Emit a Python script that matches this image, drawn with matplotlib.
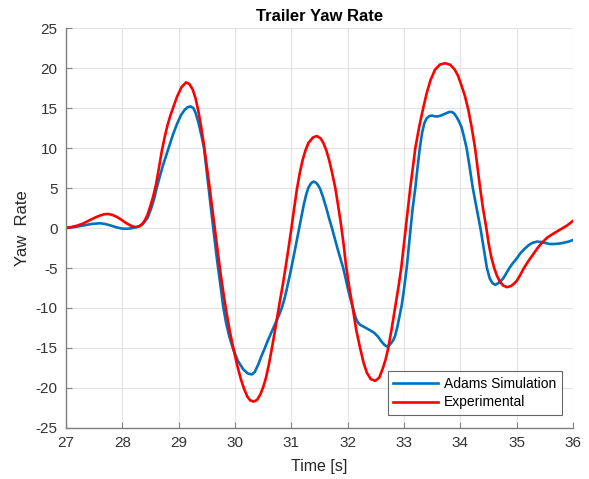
import matplotlib
matplotlib.use("Agg")
import matplotlib.pyplot as plt

plt.rcParams['font.family'] = ['Liberation Sans', 'DejaVu Sans']
plt.rcParams['axes.unicode_minus'] = False

# Adams simulation (time [s], yaw rate)
t_sim = [27.0, 27.15, 27.3, 27.45, 27.6, 27.7, 27.8, 27.9, 28.0, 28.08,
         28.17, 28.25, 28.32, 28.38, 28.45, 28.52, 28.57, 28.61, 28.66, 28.72,
         28.78, 28.82, 28.9, 28.97, 29.04, 29.11, 29.16, 29.21, 29.26, 29.3,
         29.35, 29.4, 29.45, 29.5, 29.55, 29.61, 29.66, 29.7, 29.75, 29.79,
         29.84, 29.9, 29.97, 30.05, 30.15, 30.23, 30.3, 30.35, 30.41, 30.47,
         30.53, 30.58, 30.63, 30.68, 30.73, 30.78, 30.83, 30.88, 30.92, 30.96,
         31.0, 31.04, 31.07, 31.14, 31.18, 31.22, 31.26, 31.3, 31.35, 31.39,
         31.43, 31.47, 31.51, 31.56, 31.62, 31.67, 31.72, 31.77, 31.82, 31.87,
         31.92, 31.96, 32.0, 32.05, 32.1, 32.14, 32.18, 32.22, 32.3, 32.4,
         32.47, 32.54, 32.6, 32.65, 32.69, 32.73, 32.77, 32.81, 32.84, 32.88,
         32.92, 32.96, 33.0, 33.05, 33.08, 33.11, 33.15, 33.2, 33.24, 33.28,
         33.32, 33.36, 33.4, 33.45, 33.5, 33.55, 33.6, 33.65, 33.7, 33.75,
         33.8, 33.85, 33.89, 33.93, 33.97, 34.02, 34.06, 34.11, 34.16, 34.22,
         34.3, 34.36, 34.42, 34.47, 34.52, 34.57, 34.62, 34.67, 34.72, 34.76,
         34.82, 34.87, 34.93, 35.0, 35.07, 35.14, 35.21, 35.28, 35.36, 35.44,
         35.52, 35.59, 35.67, 35.75, 35.83, 35.92, 36.0]
y_sim = [0.0, 0.12, 0.3, 0.5, 0.6, 0.5, 0.3, 0.08, -0.08, -0.1,
         -0.02, 0.1, 0.3, 0.65, 1.3, 2.6, 3.8, 5.0, 6.3, 7.8,
         9.1, 10.0, 11.7, 13.0, 14.1, 14.8, 15.1, 15.2, 15.0, 14.4,
         13.2, 11.7, 10.0, 6.9, 3.8, 0.2, -2.8, -5.0, -7.6, -9.8,
         -11.8, -13.6, -15.2, -16.6, -17.7, -18.2, -18.3, -18.0, -17.1, -16.0,
         -15.0, -14.1, -13.3, -12.5, -11.7, -10.9, -10.0, -8.8, -7.6, -6.3,
         -5.0, -3.6, -2.5, 0.0, 1.5, 2.9, 4.1, 5.0, 5.6, 5.8,
         5.7, 5.4, 4.9, 3.9, 2.5, 1.2, 0.0, -1.3, -2.6, -3.8,
         -5.0, -6.2, -7.5, -8.9, -10.2, -11.2, -11.8, -12.1, -12.4, -12.8,
         -13.1, -13.6, -14.2, -14.6, -14.8, -14.7, -14.4, -14.0, -13.5, -12.4,
         -11.0, -9.6, -7.6, -4.8, -2.6, -0.5, 2.3, 5.0, 7.6, 10.0,
         11.9, 13.1, 13.7, 14.0, 14.05, 13.95, 13.95, 14.05, 14.2, 14.35,
         14.5, 14.5, 14.3, 13.9, 13.4, 12.6, 11.5, 10.0, 7.8, 5.0,
         2.0, -0.2, -2.8, -5.0, -6.3, -6.9, -7.1, -6.9, -6.6, -6.3,
         -5.6, -5.0, -4.4, -3.8, -3.1, -2.6, -2.15, -1.85, -1.7, -1.75,
         -1.9, -2.0, -2.0, -1.95, -1.85, -1.7, -1.5]

# Experimental measurement (time [s], yaw rate)
t_exp = [27.0, 27.1, 27.2, 27.3, 27.4, 27.5, 27.6, 27.68, 27.75, 27.82,
         27.9, 27.98, 28.05, 28.12, 28.19, 28.25, 28.3, 28.35, 28.4, 28.45,
         28.5, 28.55, 28.6, 28.65, 28.7, 28.75, 28.8, 28.85, 28.9, 28.97,
         29.05, 29.13, 29.19, 29.25, 29.3, 29.35, 29.4, 29.45, 29.5, 29.55,
         29.6, 29.65, 29.7, 29.75, 29.8, 29.85, 29.91, 29.97, 30.04, 30.1,
         30.16, 30.22, 30.27, 30.33, 30.39, 30.45, 30.5, 30.55, 30.6, 30.65,
         30.7, 30.75, 30.8, 30.85, 30.9, 30.95, 31.0, 31.05, 31.1, 31.15,
         31.2, 31.25, 31.3, 31.38, 31.45, 31.52, 31.57, 31.62, 31.67, 31.72,
         31.78, 31.83, 31.88, 31.93, 31.97, 32.03, 32.09, 32.15, 32.22, 32.28,
         32.34, 32.41, 32.49, 32.56, 32.62, 32.67, 32.72, 32.78, 32.84, 32.9,
         32.95, 33.0, 33.03, 33.07, 33.11, 33.16, 33.2, 33.27, 33.34, 33.4,
         33.47, 33.55, 33.64, 33.73, 33.82, 33.9, 33.96, 34.02, 34.08, 34.14,
         34.2, 34.26, 34.3, 34.35, 34.4, 34.46, 34.5, 34.55, 34.6, 34.65,
         34.7, 34.76, 34.83, 34.9, 34.96, 35.0, 35.06, 35.12, 35.2, 35.3,
         35.37, 35.44, 35.54, 35.65, 35.77, 35.89, 36.0]
y_exp = [0.0, 0.12, 0.3, 0.55, 0.9, 1.25, 1.55, 1.72, 1.75, 1.65,
         1.4, 1.05, 0.7, 0.4, 0.18, 0.12, 0.2, 0.45, 0.95, 1.7,
         2.8, 4.0, 5.5, 7.5, 9.6, 11.3, 12.8, 14.0, 15.0, 16.4,
         17.6, 18.2, 18.0, 17.3, 16.2, 14.6, 12.6, 10.3, 7.7, 5.0,
         2.2, -0.6, -3.3, -6.0, -8.4, -10.6, -13.0, -15.0, -17.2, -18.8,
         -20.1, -21.1, -21.55, -21.7, -21.5, -20.8, -19.9, -18.7, -17.1, -15.2,
         -13.2, -11.1, -9.0, -7.0, -4.8, -2.5, -0.1, 2.5, 4.9, 6.9,
         8.5, 9.7, 10.6, 11.3, 11.5, 11.2, 10.6, 9.7, 8.5, 7.0,
         5.0, 2.8, 0.5, -2.2, -4.7, -7.5, -10.0, -12.7, -15.0, -16.8,
         -18.1, -18.9, -19.1, -18.7, -17.6, -16.5, -15.0, -12.6, -10.0, -7.4,
         -5.0, -1.9, 0.0, 2.5, 5.0, 7.8, 10.0, 12.7, 15.0, 16.8,
         18.5, 19.8, 20.45, 20.6, 20.4, 19.8, 19.0, 17.8, 16.5, 14.8,
         12.6, 10.0, 7.8, 5.0, 2.5, 0.0, -1.9, -3.7, -5.0, -6.0,
         -6.7, -7.2, -7.4, -7.25, -6.9, -6.6, -5.9, -5.1, -4.2, -3.2,
         -2.5, -1.9, -1.2, -0.7, -0.2, 0.3, 0.9]

fig = plt.figure(figsize=(5.89, 4.79), dpi=100)
ax = fig.add_axes([0.112, 0.1065, 0.861, 0.835])

ax.plot(t_sim, y_sim, color='#0072BD', linewidth=1.9, label='Adams Simulation')
ax.plot(t_exp, y_exp, color='#ff0000', linewidth=1.9, label='Experimental')

ax.set_xlim(27, 36)
ax.set_ylim(-25, 25)
ax.set_xticks(range(27, 37))
ax.set_yticks(range(-25, 26, 5))

ax.grid(True, color='#e3e3e3', linewidth=0.8)
ax.set_axisbelow(True)
for side in ['top', 'right']:
    ax.spines[side].set_visible(False)
for side in ['left', 'bottom']:
    ax.spines[side].set_color('#808080')
    ax.spines[side].set_linewidth(1.0)
ax.tick_params(direction='in', length=4, width=0.8, color='#808080',
               labelsize=11, labelcolor='#333333', pad=6)

ax.set_title('Trailer Yaw Rate', fontsize=12, fontweight='bold', pad=5)
ax.set_xlabel('Time [s]', fontsize=11.5, color='#262626', labelpad=6)
ax.set_ylabel('Yaw  Rate', fontsize=12, color='#262626', labelpad=4)

leg = ax.legend(loc='lower right', bbox_to_anchor=(0.978, 0.0325),
                borderaxespad=0, fontsize=10, frameon=True, fancybox=False,
                handlelength=3.2, handletextpad=0.45, borderpad=0.4,
                labelspacing=0.35)
leg.get_frame().set_edgecolor('#404040')
leg.get_frame().set_linewidth(0.8)

fig.savefig('out.png', dpi=100)
